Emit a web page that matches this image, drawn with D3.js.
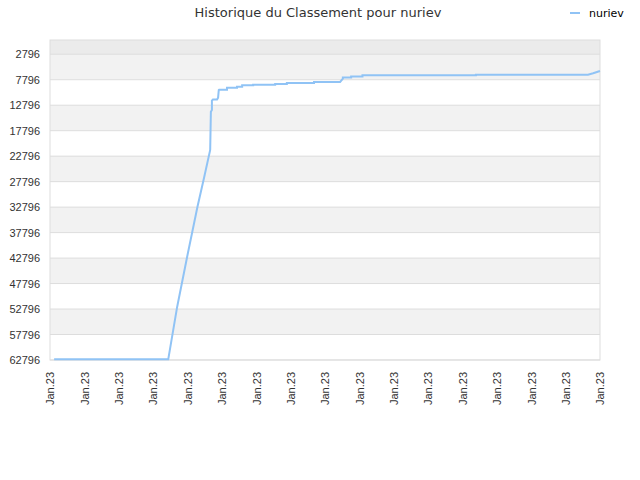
<!DOCTYPE html>
<html>
<head>
<meta charset="utf-8">
<script src="https://cdn.jsdelivr.net/npm/d3@7"></script>
<style>
  body { margin: 0; background: #fff; font-family: 'DejaVu Sans', Verdana, sans-serif; }
  .title { font-size: 13px; fill: #333; }
  .tick text { font-size: 11px; fill: #333; }
</style>
</head>
<body>
<svg id="chart" width="640" height="480"></svg>
<script>
const playerName = 'nuriev'
const chartTitle = 'Historique du Classement pour nuriev'

// day index along the x axis (0 .. 160), rank
const days = [1.2, 34.4, 37.0, 39.9, 42.9, 44.8, 46.6, 46.8, 47.1, 47.1, 47.4, 48.6, 48.9, 49.1, 49.2,
  51.5, 51.5, 54.4, 54.4, 55.9, 55.9, 59.1, 59.1, 65.5, 65.5, 68.9, 68.9, 76.8, 76.8, 84.4, 85.2, 85.2,
  87.6, 87.6, 90.9, 90.9, 123.9, 123.9, 156.5, 158.0, 160.0]
const ranks = [62659, 62659, 52336, 42525, 32713, 27081, 21586, 14071, 13737, 11912, 11677, 11677, 11324, 9812, 9754,
  9754, 9361, 9361, 9165, 9165, 8890, 8890, 8772, 8772, 8635, 8635, 8439, 8439, 8243, 8243, 7595, 7360,
  7360, 7163, 7163, 6928, 6928, 6810, 6810, 6536, 6084]

const xTickDays = d3.range(0, 161, 10)
const xTickLabels = xTickDays.map(() => 'Jan.23')
const yTicks = [2796, 7796, 12796, 17796, 22796, 27796, 32796, 37796, 42796, 47796, 52796, 57796, 62796]
const rankMin = 1
const rankMax = 62796

const margin = { top: 40, right: 40, bottom: 120, left: 50 }
const width = 640 - margin.left - margin.right
const height = 480 - margin.top - margin.bottom

const svg = d3.select('#chart')
const g = svg.append('g').attr('transform', 'translate(' + margin.left + ',' + margin.top + ')')

const xScale = d3.scaleLinear().domain([0, 160]).range([0, width])
const yScale = d3.scaleLinear().domain([rankMin, rankMax]).range([0, height])

// alternating background bands between ticks
const bandEdges = [rankMin].concat(yTicks)
const bands = d3.pairs(bandEdges)
g.selectAll('.band')
  .data(bands)
  .join('rect')
  .attr('class', 'band')
  .attr('x', 0)
  .attr('width', width)
  .attr('y', d => yScale(d[0]))
  .attr('height', d => yScale(d[1]) - yScale(d[0]))
  .attr('fill', (d, i) => i === 0 ? '#ebebeb' : (i % 2 === 1 ? '#f2f2f2' : '#ffffff'))

// horizontal grid lines
g.selectAll('.grid')
  .data(yTicks)
  .join('line')
  .attr('class', 'grid')
  .attr('x1', 0)
  .attr('x2', width)
  .attr('y1', d => yScale(d))
  .attr('y2', d => yScale(d))
  .attr('stroke', '#dddddd')
  .attr('stroke-width', 1)

// plot frame
g.append('rect')
  .attr('x', 0).attr('y', 0)
  .attr('width', width).attr('height', height)
  .attr('fill', 'none')
  .attr('stroke', '#dddddd')

// y axis
const yAxis = g.append('g')
  .call(d3.axisLeft(yScale).tickValues(yTicks).tickSize(0).tickPadding(10).tickFormat(d => d))
yAxis.select('.domain').remove()

// x axis
const xAxis = g.append('g')
  .attr('transform', 'translate(0,' + height + ')')
  .call(d3.axisBottom(xScale).tickValues(xTickDays).tickSize(0).tickFormat((d, i) => xTickLabels[i]))
xAxis.select('.domain').remove()
xAxis.selectAll('text')
  .attr('transform', 'rotate(-90)')
  .attr('text-anchor', 'end')
  .attr('x', -12)
  .attr('y', 0)
  .attr('dy', '0.35em')

// rank line
const lineData = days.map((d, i) => ({ day: d, rank: ranks[i] }))
const line = d3.line()
  .x(d => xScale(d.day))
  .y(d => yScale(d.rank))
g.append('path')
  .datum(lineData)
  .attr('fill', 'none')
  .attr('stroke', '#90c3f5')
  .attr('stroke-width', 2)
  .attr('d', line)

// title
svg.append('text')
  .attr('class', 'title')
  .attr('x', 318)
  .attr('y', 17)
  .attr('text-anchor', 'middle')
  .text(chartTitle)

// legend
const legend = svg.append('g').attr('transform', 'translate(570,13)')
legend.append('line')
  .attr('x1', 0).attr('x2', 10)
  .attr('y1', 0).attr('y2', 0)
  .attr('stroke', '#90c3f5')
  .attr('stroke-width', 2)
legend.append('text')
  .attr('x', 19)
  .attr('y', 0)
  .attr('dy', '0.35em')
  .attr('font-size', 11)
  .attr('fill', '#000')
  .text(playerName)
</script>
</body>
</html>
